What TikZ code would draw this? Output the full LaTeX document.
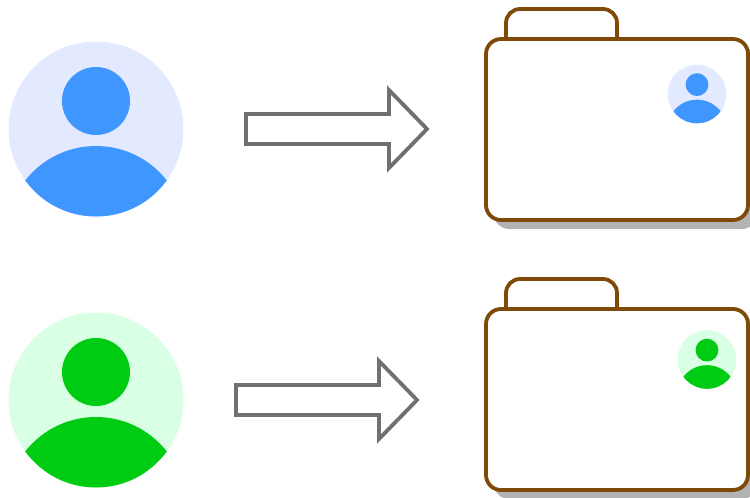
\documentclass[tikz,border=0pt]{standalone}
\definecolor{blueLight}{HTML}{E3EAFF}
\definecolor{blueDark}{HTML}{4096FF}
\definecolor{greenLight}{HTML}{D9FFE4}
\definecolor{greenDark}{HTML}{00CC14}
\definecolor{folderBrown}{HTML}{7F4A08}
\definecolor{arrowGrey}{HTML}{707070}
\definecolor{shadowGrey}{HTML}{B3B3B3}
\tikzset{
  folderline/.style={draw=folderBrown,line width=3.8pt,fill=white,rounded corners=15pt},
  foldershadow/.style={fill=shadowGrey,rounded corners=15pt},
  blockarrow/.style={draw=arrowGrey,line width=3.8pt,fill=white,miter limit=10},
}
\newcommand{\personIcon}[5]{%
  \begin{scope}[shift={(#1,#2)},scale=#3]
    \fill[#4] (0,0) circle[radius=87.5];
    \fill[#5] (0,-28) circle[radius=34];
    \begin{scope}
      \clip (0,0) circle[radius=87.5];
      \fill[#5] (0,107) circle[radius=90];
    \end{scope}
  \end{scope}}
\newcommand{\folderIcon}[1]{%
  \begin{scope}[shift={(0,#1)}]
    \fill[foldershadow] (494,47) rectangle (757,229);
    \draw[folderline,rounded corners=14pt] (506,39) -- (506,9) -- (617,9) -- (617,39);
    \draw[folderline] (486,39) rectangle (748,220);
  \end{scope}}
\newcommand{\blockArrow}[2]{%
  \draw[blockarrow] (#1,#2-15) -- (#1+143,#2-15) -- (#1+143,#2-39) -- (#1+181,#2)
    -- (#1+143,#2+39) -- (#1+143,#2+15) -- (#1,#2+15) -- cycle;}
\begin{document}
\begin{tikzpicture}[x=1pt,y=-1pt]
  \useasboundingbox (0,0) rectangle (750,498);
  \clip (0,0) rectangle (750,498);
  \personIcon{96}{129}{1}{blueLight}{blueDark}
  \personIcon{96}{400}{1}{greenLight}{greenDark}
  \blockArrow{246}{129}
  \blockArrow{236}{400}
  \folderIcon{0}
  \folderIcon{270}
  \personIcon{697}{94}{0.335}{blueLight}{blueDark}
  \personIcon{707}{359.5}{0.335}{greenLight}{greenDark}
\end{tikzpicture}
\end{document}
